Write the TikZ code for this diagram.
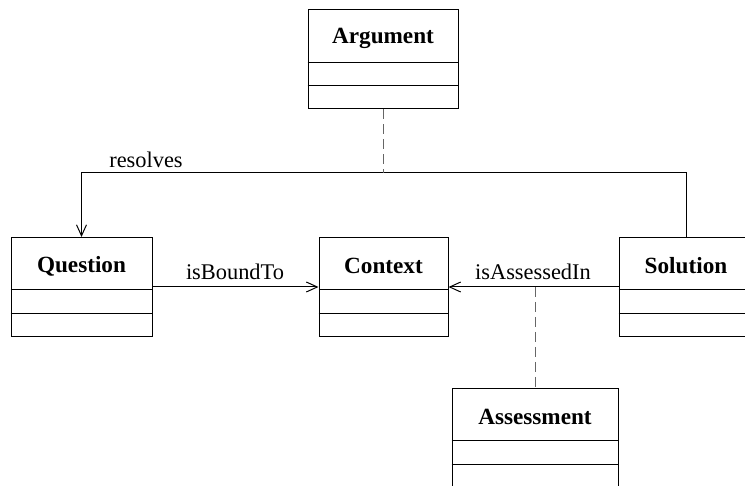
\documentclass[tikz,border=0pt]{standalone}
\usepackage{fontspec}
\setmainfont{Liberation Serif}
\usetikzlibrary{arrows.meta,calc}

\tikzset{
  classbox/.style={draw=black, line width=0.5pt, rectangle, inner sep=0pt,
    minimum height=49.5pt, anchor=north},
  classtitle/.style={font=\fontsize{11.6}{13}\selectfont\bfseries, inner sep=0pt},
  rolelabel/.style={font=\fontsize{11.2}{13}\selectfont, inner sep=0pt},
  assoc/.style={draw=black, line width=0.5pt,
    -{Straight Barb[length=5.5pt,width=5pt,line width=0.5pt]}},
  plainline/.style={draw=black, line width=0.5pt},
  tether/.style={draw=black!60, line width=0.5pt, dash pattern=on 5pt off 2.5pt},
}

% class box: name, centre x, top y, width (pt), title
\newcommand\umlclass[5]{%
  \node[classbox, minimum width=#4] (#1) at (#2,#3) {};
  \node[classtitle] (#1-title) at ($(#1.north)+(0,29)$) {#5};
  \draw[plainline] ($(#1.north west)+(0,53)$) -- ($(#1.north east)+(0,53)$);
  \draw[plainline] ($(#1.north west)+(0,76.5)$) -- ($(#1.north east)+(0,76.5)$);
}

\begin{document}
\begin{tikzpicture}[x=0.5pt, y=-0.5pt]
  \useasboundingbox (0,0) rectangle (745,486);
  \clip (0,0) rectangle (745,486);

  \umlclass{arg}{383}{9.5}{75pt}{Argument}
  \umlclass{que}{81.5}{237}{70.5pt}{Question}
  \umlclass{ctx}{383.5}{237}{64.5pt}{Context}
  \umlclass{sol}{686}{237}{67pt}{Solution}
  \umlclass{asm}{535}{388}{83pt}{Assessment}

  % resolves: Solution up, across, and down into Question
  \coordinate (rl) at (81.5,173);
  \draw[assoc] (sol.north) |- (rl) -- (que.north);
  \node[rolelabel] (lres) at (146,160) {resolves};

  % Argument hangs off the resolves association
  \coordinate (argfoot) at (arg.south |- rl);
  \draw[tether] (arg.south) -- (argfoot);

  % isBoundTo
  \draw[assoc] (que.east) -- (ctx.west);
  \node[rolelabel] (lbound) at (235,272) {isBoundTo};

  % isAssessedIn
  \draw[assoc] (sol.west) -- (ctx.east);
  \node[rolelabel] (lassess) at (533,272) {isAssessedIn};

  % Assessment hangs off the isAssessedIn association
  \coordinate (asmtop) at (asm.north |- ctx.east);
  \draw[tether] (asmtop) -- (asm.north);
\end{tikzpicture}
\end{document}
